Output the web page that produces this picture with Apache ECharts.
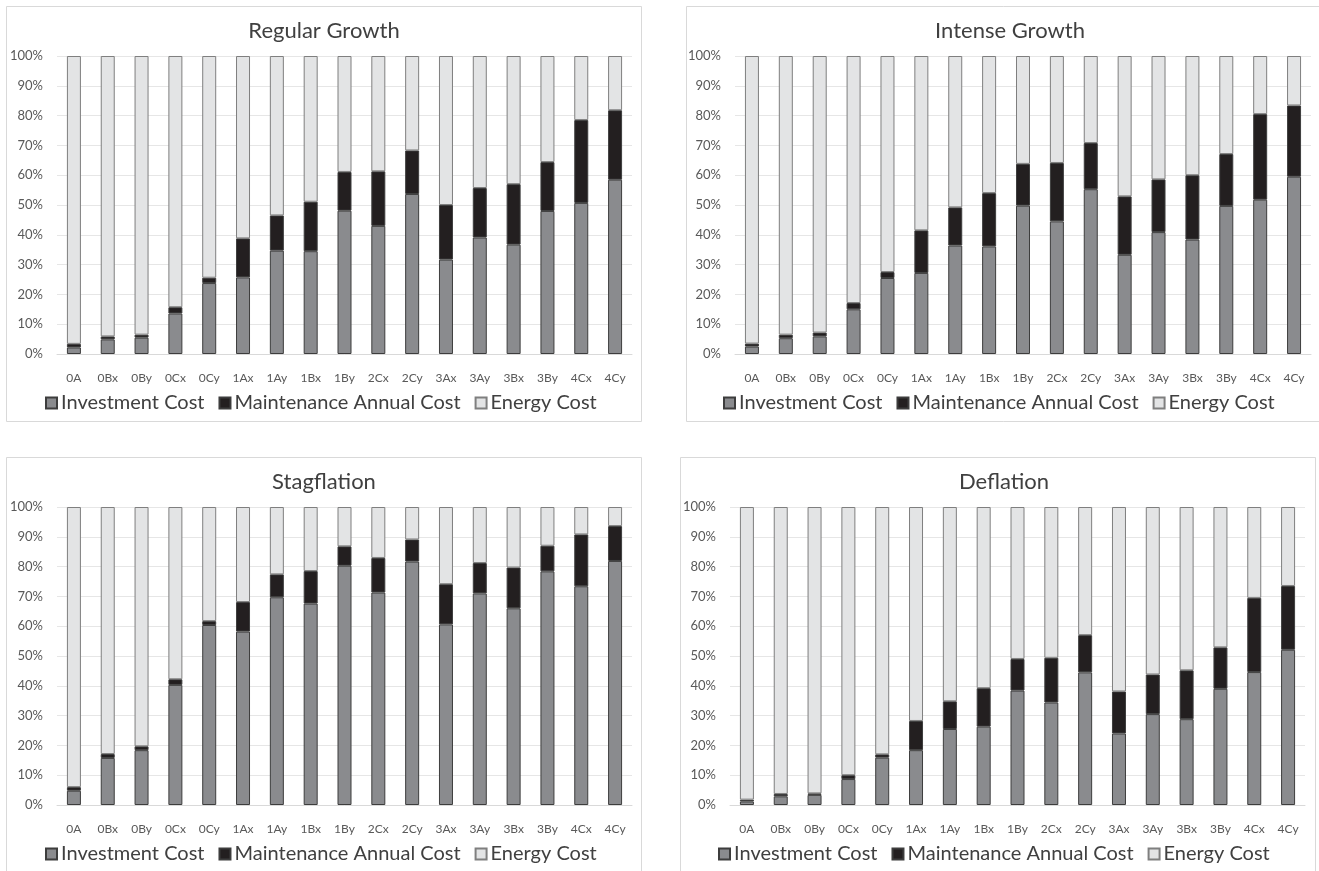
<!DOCTYPE html>
<html>
<head>
<meta charset="utf-8">
<title>Cost breakdown by scenario</title>
<script src="https://cdn.jsdelivr.net/npm/echarts@6/dist/echarts.min.js"></script>
<style>
  html, body { margin: 0; padding: 0; background: #ffffff; }
  #chart { width: 1319px; height: 871px; }
</style>
</head>
<body>
<div id="chart"></div>
<script>
// Configurations shown on every panel
const categories = ['0A','0Bx','0By','0Cx','0Cy','1Ax','1Ay','1Bx','1By','2Cx','2Cy','3Ax','3Ay','3Bx','3By','4Cx','4Cy'];
const yTicks = [0, 100, 10]; // min, max, step (percent)

// Regular Growth (% of total cost)
const rgInvest = [2.2, 4.9, 5.5, 13.6, 23.8, 25.7, 34.7, 34.5, 48.1, 43.0, 53.7, 31.7, 39.1, 36.7, 48.0, 50.7, 58.5];
const rgMaint  = [1.2, 1.0, 1.0, 2.1, 1.8, 13.1, 11.8, 16.6, 13.0, 18.3, 14.6, 18.3, 16.6, 20.3, 16.4, 27.8, 23.3];
const rgEnergy = [96.6, 94.1, 93.5, 84.3, 74.4, 61.2, 53.5, 48.9, 38.9, 38.7, 31.7, 50.0, 44.3, 43.0, 35.6, 21.5, 18.2];

// Intense Growth
const igInvest = [2.5, 5.3, 5.9, 15.0, 25.5, 27.2, 36.4, 36.1, 49.8, 44.5, 55.3, 33.3, 40.9, 38.4, 49.7, 51.8, 59.5];
const igMaint  = [1.0, 1.2, 1.3, 2.1, 2.0, 14.3, 12.8, 17.9, 14.0, 19.6, 15.5, 19.6, 17.7, 21.6, 17.4, 28.7, 23.9];
const igEnergy = [96.5, 93.5, 92.8, 82.9, 72.5, 58.5, 50.8, 46.0, 36.2, 35.9, 29.2, 47.1, 41.4, 40.0, 32.9, 19.5, 16.6];

// Stagflation
const sfInvest = [4.8, 15.8, 18.4, 40.3, 60.4, 58.2, 69.7, 67.6, 80.3, 71.3, 81.7, 60.6, 71.0, 66.0, 78.4, 73.4, 81.9];
const sfMaint  = [1.2, 1.3, 1.3, 1.9, 1.3, 9.9, 7.7, 10.9, 6.5, 11.6, 7.4, 13.5, 10.2, 13.7, 8.6, 17.4, 11.7];
const sfEnergy = [94.0, 82.9, 80.3, 57.8, 38.3, 31.9, 22.6, 21.5, 13.2, 17.1, 10.9, 25.9, 18.8, 20.3, 13.0, 9.2, 6.4];

// Deflation
const dfInvest = [1.2, 2.9, 3.4, 8.7, 15.9, 18.4, 25.5, 26.3, 38.4, 34.4, 44.5, 24.0, 30.5, 28.8, 39.0, 44.6, 52.1];
const dfMaint  = [0.6, 0.8, 0.5, 1.3, 1.1, 9.8, 9.3, 12.9, 10.6, 15.0, 12.5, 14.1, 13.3, 16.4, 13.9, 24.9, 21.4];
const dfEnergy = [98.2, 96.3, 96.1, 90.0, 83.0, 71.8, 65.2, 60.8, 51.0, 50.6, 43.0, 61.9, 56.2, 54.8, 47.1, 30.5, 26.5];

const seriesNames = ['Investment Cost', 'Maintenance Annual Cost', 'Energy Cost'];
const colors = ['#8a8b8e', '#231f20', '#e3e4e5'];

const panels = [
  { title: 'Regular Growth', data: [rgInvest, rgMaint, rgEnergy],
    box: [6, 6, 635, 415], grid: [57, 56, 575, 298], titleX: 319, titleY: 15, legend: [40, 388] },
  { title: 'Intense Growth', data: [igInvest, igMaint, igEnergy],
    box: [686, 6, 640, 415], grid: [735, 56, 576, 298], titleX: 1005, titleY: 15, legend: [718, 388] },
  { title: 'Stagflation', data: [sfInvest, sfMaint, sfEnergy],
    box: [6, 457, 635, 420], grid: [57, 507, 575, 298], titleX: 319, titleY: 466, legend: [40, 839] },
  { title: 'Deflation', data: [dfInvest, dfMaint, dfEnergy],
    box: [680, 457, 635, 420], grid: [730, 507, 575, 298], titleX: 999, titleY: 466, legend: [713, 839] }
];

const FONT = 'Lato, "Noto Sans", sans-serif';

const option = {
  animation: false,
  backgroundColor: '#ffffff',
  color: colors,
  textStyle: { fontFamily: FONT },
  title: [], legend: [], grid: [], xAxis: [], yAxis: [], series: [],
  graphic: []
};

panels.forEach((p, i) => {
  option.graphic.push({
    type: 'rect', silent: true, z: -10,
    shape: { x: p.box[0] + 0.5, y: p.box[1] + 0.5, width: p.box[2], height: p.box[3] },
    style: { fill: '#ffffff', stroke: '#d9d9d9', lineWidth: 1 }
  });
  option.title.push({
    text: p.title, left: p.titleX, top: p.titleY, textAlign: 'center',
    textStyle: { fontFamily: FONT, fontSize: 22, fontWeight: 'normal', color: '#404040' }
  });
  option.legend.push({
    left: p.legend[0], top: p.legend[1], orient: 'horizontal',
    itemWidth: 11, itemHeight: 11, itemGap: 14, icon: 'rect',
    data: seriesNames,
    textStyle: { fontFamily: FONT, fontSize: 20, color: '#404040', padding: [0, 0, 0, -1] }
  });
  option.grid.push({ left: p.grid[0], top: p.grid[1], width: p.grid[2], height: p.grid[3], containLabel: false });
  option.xAxis.push({
    type: 'category', gridIndex: i, data: categories,
    axisLine: { show: true, lineStyle: { color: '#d9d9d9', width: 1 } },
    axisTick: { show: false },
    axisLabel: { color: '#595959', fontSize: 12, margin: 18, fontFamily: FONT, interval: 0 },
    splitLine: { show: false }
  });
  option.yAxis.push({
    type: 'value', gridIndex: i, min: yTicks[0], max: yTicks[1], interval: yTicks[2],
    axisLine: { show: false }, axisTick: { show: false },
    axisLabel: { formatter: '{value}%', color: '#595959', fontSize: 13, margin: 14, fontFamily: FONT },
    splitLine: { show: true, lineStyle: { color: '#e6e6e6', width: 1 } }
  });
  p.data.forEach((values, k) => {
    option.series.push({
      name: seriesNames[k], type: 'bar', stack: 'panel' + i,
      xAxisIndex: i, yAxisIndex: i, data: values, barWidth: 14,
      itemStyle: { color: colors[k], borderColor: k === 2 ? '#7f7f7f' : '#3d3d3d', borderWidth: 1 },
      emphasis: { disabled: true }
    });
  });
});

const chart = echarts.init(document.getElementById('chart'), null, { renderer: 'canvas' });
chart.setOption(option);
</script>
</body>
</html>
